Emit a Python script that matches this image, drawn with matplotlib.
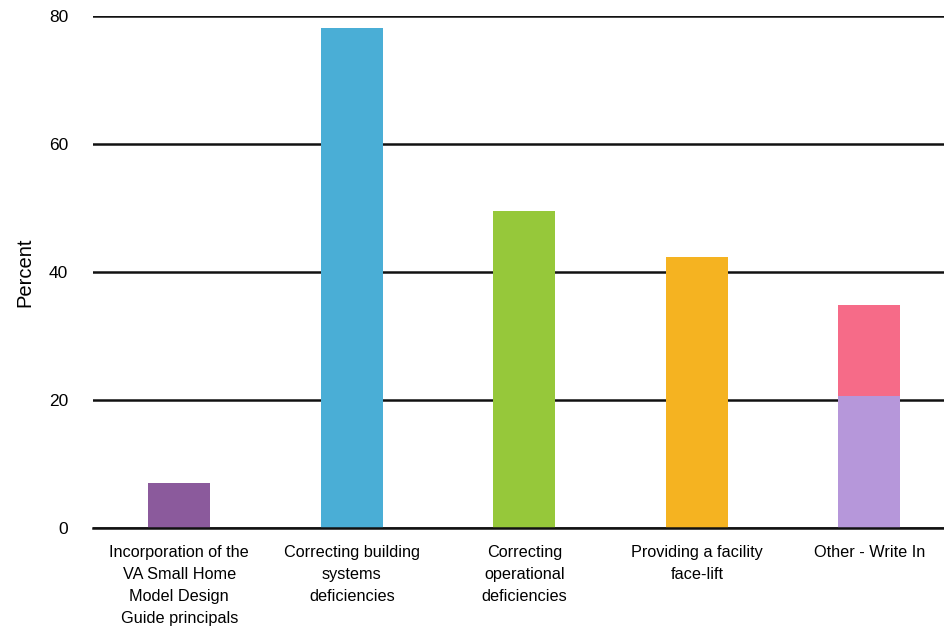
import matplotlib.pyplot as plt

# Survey responses by renovation goal (percent of respondents)
categories = [
    "Incorporation of the\nVA Small Home\nModel Design\nGuide principals",
    "Correcting building\nsystems\ndeficiencies",
    "Correcting\noperational\ndeficiencies",
    "Providing a facility\nface-lift",
    "Other - Write In",
]
percent = [7.0, 78.1, 49.5, 42.3, 20.7]
other_extra = [0, 0, 0, 0, 14.2]
bar_colors = ["#8b5a9c", "#4aaed6", "#96c83a", "#f5b321", "#b697da"]
extra_color = "#f66b88"

plt.rcParams['font.family'] = ['Liberation Sans', 'DejaVu Sans']

fig = plt.figure(figsize=(9.44, 6.34), dpi=100)
ax = fig.add_axes([93 / 944, 106 / 634, 851 / 944, 512 / 634])

x = range(len(categories))
ax.bar(x, percent, width=0.36, color=bar_colors, zorder=3)
ax.bar(x, other_extra, width=0.36, bottom=percent, color=extra_color, zorder=3)

ax.set_xlim(-0.5, 4.433)
ax.set_ylim(0, 80)
ax.set_yticks([0, 20, 40, 60, 80])
ax.grid(axis='y', color='#111111', linewidth=1.8, zorder=1)
ax.set_axisbelow(True)

for side in ['top', 'right', 'left']:
    ax.spines[side].set_visible(False)
ax.spines['bottom'].set_color('#111111')
ax.spines['bottom'].set_linewidth(1.8)
ax.spines['bottom'].set_zorder(4)

ax.set_xticks(list(x))
ax.set_xticklabels(categories, fontsize=11.7, linespacing=1.6, va='top')
ax.tick_params(axis='x', length=0, pad=12)
ax.tick_params(axis='y', length=0, pad=18, labelsize=12.5)

ax.set_ylabel("Percent", fontsize=14.5, labelpad=10)

fig.savefig("out.png", dpi=100)
